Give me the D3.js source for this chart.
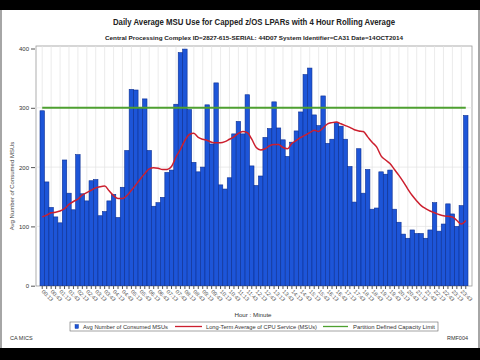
<!DOCTYPE html>
<html><head><meta charset="utf-8">
<script src="https://cdn.jsdelivr.net/npm/d3@7"></script>
<style>
html,body{margin:0;padding:0;background:#000;}
svg{display:block;}
</style></head>
<body>
<svg id="c" width="480" height="360"></svg>
<script>
const categories = [
"00:13","00:28","00:43","00:58","01:13","01:28","01:43","01:58",
"02:13","02:28","02:43","02:58","03:13","03:28","03:43","03:58",
"04:13","04:28","04:43","04:58","05:13","05:28","05:43","05:58",
"06:13","06:28","06:43","06:58","07:13","07:28","07:43","07:58",
"08:13","08:28","08:43","08:58","09:13","09:28","09:43","09:58",
"10:13","10:28","10:43","10:58","11:13","11:28","11:43","11:58",
"12:13","12:28","12:43","12:58","13:13","13:28","13:43","13:58",
"14:13","14:28","14:43","14:58","15:13","15:28","15:43","15:58",
"16:13","16:28","16:43","16:58","17:13","17:28","17:43","17:58",
"18:13","18:28","18:43","18:58","19:13","19:28","19:43","19:58",
"20:13","20:28","20:43","20:58","21:13","21:28","21:43","21:58",
"22:13","22:28","22:43","22:58","23:13","23:28","23:43","23:58"];

const msuValues = [
295,175,132,116,106,212,156,128,221,155,143,177,179,118,125,143,
154,115,166,228,331,330,300,315,228,134,140,149,191,195,306,393,
399,297,208,192,200,305,239,342,170,163,182,256,277,256,322,202,
169,185,250,265,310,266,246,218,242,261,293,356,367,288,270,320,
240,247,275,269,247,201,141,231,156,196,129,131,192,188,195,129,
107,87,80,94,88,88,80,94,140,92,104,138,121,100,135,287];

const rollingAvg = [
116,119,123,124,126,130,137,142,146,153,157,161,165,167,168,160,
152,147,147,152,161,170,180,189,197,199,198,196,196,201,217,230,
245,255,257,250,247,245,242,241,241,243,247,251,257,260,258,247,
233,229,231,236,238,238,233,231,240,245,250,254,258,262,260,266,
273,275,276,273,270,267,263,261,260,251,242,234,219,212,206,196,
186,175,163,152,143,135,130,126,123,120,118,117,116,110,104,110];

const capacityLimit = 300;
const yTicks = [0,100,200,300,400];

const titleText = "Daily Average MSU Use for Capped z/OS LPARs with 4 Hour Rolling  Average";
const subtitleText = "Central Processing Complex ID=2827-615-SERIAL: 44D07 System Identifier=CA31 Date=14OCT2014";
const yLabel = "Avg Number of Consumed MSUs";
const xLabel = "Hour : Minute";
const legendLabels = ["Avg Number of Consumed MSUs","Long-Term Average of CPU Service (MSUs)","Partition Defined Capacity Limit"];

const svg = d3.select("#c");
const FONT = "'Liberation Sans', Arial, sans-serif";

// page background (white sheet between black bars)
svg.append("rect").attr("x",0).attr("y",10).attr("width",480).attr("height",338).attr("fill","#fff");
svg.append("line").attr("x1",1).attr("x2",1).attr("y1",10).attr("y2",348).attr("stroke","#888").attr("stroke-width",1.5);
svg.append("line").attr("x1",479).attr("x2",479).attr("y1",10).attr("y2",348).attr("stroke","#888").attr("stroke-width",1.5);

const x = d3.scaleBand().domain(categories).range([40,468]).padding(0);
const y = d3.scaleLinear().domain([0,400]).range([285.7,48.5]);

// frame
svg.append("rect").attr("x",36).attr("y",46).attr("width",436).attr("height",240)
  .attr("fill","#fff").attr("stroke","#9a9a9a").attr("stroke-width",0.8);

// grid
const g = svg.append("g");
g.selectAll(".vg").data(categories.filter((d,i)=>i%2===0)).join("line")
  .attr("x1",d=>x(d)+x.bandwidth()/2).attr("x2",d=>x(d)+x.bandwidth()/2)
  .attr("y1",46).attr("y2",286).attr("stroke","#e2e2e2").attr("stroke-width",0.7);
g.selectAll(".hg").data(yTicks.filter(d=>d>0&&d<400)).join("line")
  .attr("x1",36).attr("x2",472).attr("y1",d=>y(d)).attr("y2",d=>y(d))
  .attr("stroke","#e2e2e2").attr("stroke-width",0.7);

// bars
svg.append("g").selectAll("rect").data(msuValues).join("rect")
  .attr("x",(d,i)=>x(categories[i]))
  .attr("y",d=>y(d))
  .attr("width",x.bandwidth())
  .attr("height",d=>y(0)-y(d))
  .attr("fill","#1d55d8").attr("stroke","#0c2f92").attr("stroke-width",0.6);

// green capacity line
svg.append("line")
  .attr("x1",x(categories[0])+x.bandwidth()/2).attr("x2",x(categories[95])+x.bandwidth()/2)
  .attr("y1",y(capacityLimit)).attr("y2",y(capacityLimit))
  .attr("stroke","#4ea030").attr("stroke-width",2);

// red rolling avg
const line = d3.line().x((d,i)=>x(categories[i])+x.bandwidth()/2).y(d=>y(d)).curve(d3.curveMonotoneX);
svg.append("path").datum(rollingAvg).attr("d",line).attr("fill","none")
  .attr("stroke","#cc1f2e").attr("stroke-width",1.5);

// y axis
const yAxis = d3.axisLeft(y).tickValues(yTicks).tickSize(4).tickPadding(2);
const ya = svg.append("g").attr("transform","translate(35,0)").call(yAxis);
ya.select(".domain").remove();
ya.selectAll("line").attr("stroke","#555");
ya.selectAll("text").attr("font-family",FONT).attr("font-size",6).attr("fill","#333");

// x axis
const xAxis = d3.axisBottom(x).tickSize(3).tickFormat((d,i)=> i%2===0 ? d : "");
const xa = svg.append("g").attr("transform","translate(0,286)").call(xAxis);
xa.select(".domain").remove();
xa.selectAll("line").attr("stroke","#555");
xa.selectAll("text").attr("font-family",FONT).attr("font-size",5.5).attr("fill","#555")
  .attr("text-anchor","start").attr("dy",0)
  .attr("transform","translate(-1,6) rotate(45)").attr("y",0).attr("x",0);

// titles
svg.append("text").attr("x",254).attr("y",25).attr("text-anchor","middle")
  .attr("font-family",FONT).attr("font-weight","bold").attr("font-size",8.4).attr("fill","#222")
  .attr("textLength",282).attr("lengthAdjust","spacingAndGlyphs").text(titleText);
svg.append("text").attr("x",254).attr("y",40).attr("text-anchor","middle")
  .attr("font-family",FONT).attr("font-weight","bold").attr("font-size",6.2).attr("fill","#222")
  .attr("textLength",298).attr("lengthAdjust","spacingAndGlyphs").text(subtitleText);

svg.append("text").attr("transform","translate(14,186) rotate(-90)").attr("text-anchor","middle")
  .attr("font-family",FONT).attr("font-size",6).attr("fill","#444").text(yLabel);
svg.append("text").attr("x",253).attr("y",317).attr("text-anchor","middle")
  .attr("font-family",FONT).attr("font-size",6.2).attr("fill","#333").text(xLabel);

// legend
const lg = svg.append("g");
lg.append("rect").attr("x",70).attr("y",322).attr("width",368).attr("height",9)
  .attr("fill","#fff").attr("stroke","#666").attr("stroke-width",0.6);
lg.append("rect").attr("x",75).attr("y",324.5).attr("width",3.5).attr("height",4).attr("fill","#1d55d8").attr("stroke","#0c2f92").attr("stroke-width",0.4);
lg.append("text").attr("x",83).attr("y",328.8).attr("font-family",FONT).attr("font-size",6.1).attr("fill","#333")
  .attr("textLength",85).attr("lengthAdjust","spacingAndGlyphs").text(legendLabels[0]);
lg.append("line").attr("x1",175).attr("x2",202).attr("y1",326.5).attr("y2",326.5).attr("stroke","#cc1f2e").attr("stroke-width",1.3);
lg.append("text").attr("x",206).attr("y",328.8).attr("font-family",FONT).attr("font-size",6.1).attr("fill","#333")
  .attr("textLength",111).attr("lengthAdjust","spacingAndGlyphs").text(legendLabels[1]);
lg.append("line").attr("x1",323).attr("x2",348).attr("y1",326.5).attr("y2",326.5).attr("stroke","#4ea030").attr("stroke-width",1.3);
lg.append("text").attr("x",353).attr("y",328.8).attr("font-family",FONT).attr("font-size",6.1).attr("fill","#333")
  .attr("textLength",82).attr("lengthAdjust","spacingAndGlyphs").text(legendLabels[2]);

svg.append("text").attr("x",10).attr("y",340).attr("font-family",FONT).attr("font-size",5.5).attr("fill","#333").text("CA MICS");
svg.append("text").attr("x",468).attr("y",340).attr("text-anchor","end").attr("font-family",FONT).attr("font-size",5.5).attr("fill","#333").text("RMF004");
</script>
</body></html>
